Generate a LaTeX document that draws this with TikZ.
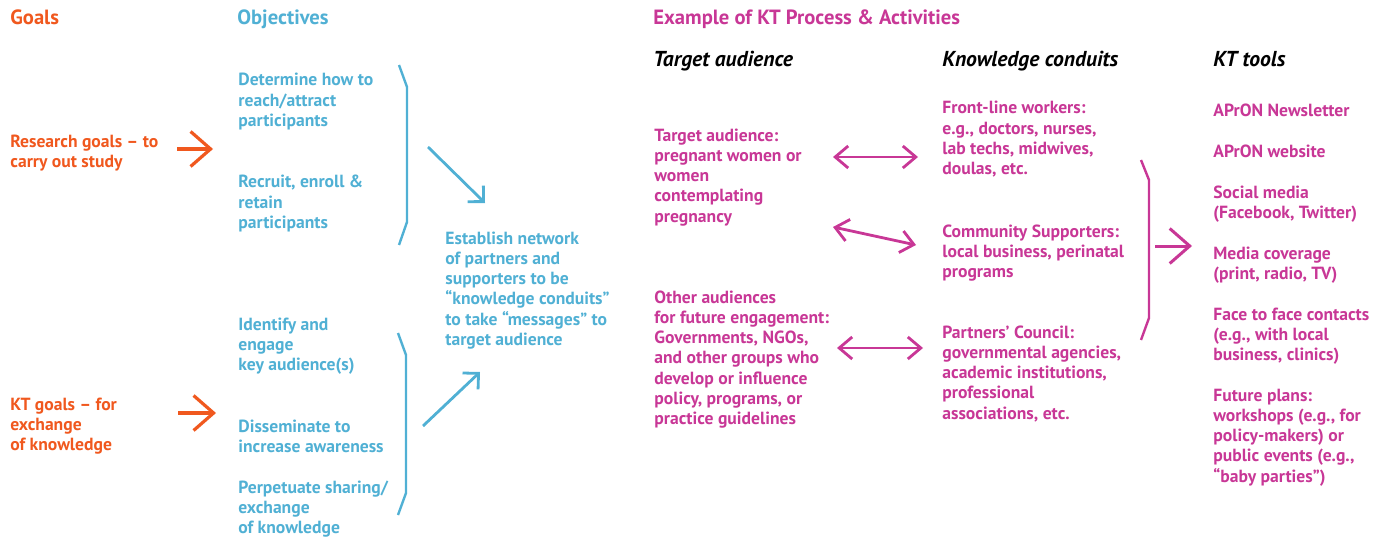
\documentclass[tikz,border=0pt]{standalone}
\usepackage{fontspec}
\setmainfont{PT Sans}
\usetikzlibrary{arrows.meta}
\definecolor{goalorange}{RGB}{240,88,30}
\definecolor{objblue}{RGB}{80,176,212}
\definecolor{ktpink}{RGB}{200,55,150}
\tikzset{
  txt/.style={anchor=base west,inner sep=0pt,align=left,font=\fontsize{8.8}{10.15}\selectfont\bfseries},
  head/.style={anchor=base west,inner sep=0pt,font=\fontsize{10.3}{12}\selectfont\bfseries},
  sub/.style={anchor=base west,inner sep=0pt,font=\fontsize{10.8}{12}\selectfont\bfseries\itshape},
  bracket/.style={line width=1.2pt,line join=round},
  bigtip/.tip={Straight Barb[length=10pt,width=17.5pt]},
  midtip/.tip={Straight Barb[length=5.7pt,width=11.3pt]},
  smalltip/.tip={Straight Barb[length=6.5pt,width=11pt]}
}
\begin{document}
\begin{tikzpicture}[x=0.5pt,y=-0.5pt]
\useasboundingbox (0,0) rectangle (1382,540);
\node[head,goalorange] (hgoal) at (10,25) {Goals};
\node[head,objblue] (hobj) at (237,25) {Objectives};
\node[head,ktpink] (hex) at (653,25) {Example of KT Process \& Activities};
\node[sub] (hta) at (653,67) {Target audience};
\node[sub] (hkc) at (942,67) {Knowledge conduits};
\node[sub] (hkt) at (1213,67) {KT tools};

% multi-line texts sit on the baseline of their last line
\node[txt,goalorange] (goalres) at (10,167.3) {Research goals -- to\\carry out study};
\node[txt,goalorange] (goalkt) at (10,450.6) {KT goals -- for\\exchange\\of knowledge};

\node[txt,objblue] (obj1) at (238,126.6) {Determine how to\\reach/attract\\participants};
\node[txt,objblue] (obj2) at (238,228.6) {Recruit, enroll \&\\retain\\participants};
\node[txt,objblue] (obj3) at (238,370.6) {Identify and\\engage\\key audience(s)};
\node[txt,objblue] (obj4) at (238,452.3) {Disseminate to\\increase awareness};
\node[txt,objblue] (obj5) at (238,533.6) {Perpetuate sharing/\\exchange\\of knowledge};
\node[txt,objblue] (estab) at (445,345.5) {Establish network\\of partners and\\supporters to be\\“knowledge conduits”\\to take “messages” to\\target audience};

\node[txt,ktpink] (aud1) at (654,222.2) {Target audience:\\pregnant women or\\women\\contemplating\\pregnancy};
\node[txt,ktpink] (aud2) at (654,424.8) {Other audiences\\for future engagement:\\Governments, NGOs,\\and other groups who\\develop or influence\\policy, programs, or\\practice guidelines};

\node[txt,ktpink] (cond1) at (942,174.9) {Front-line workers:\\e.g., doctors, nurses,\\lab techs, midwives,\\doulas, etc.};
\node[txt,ktpink] (cond2) at (942,277.6) {Community Supporters:\\local business, perinatal\\programs};
\node[txt,ktpink] (cond3) at (942,419.2) {Partners’ Council:\\governmental agencies,\\academic institutions,\\professional\\associations, etc.};

\node[txt,ktpink] (tool1) at (1213,117) {APrON Newsletter};
\node[txt,ktpink] (tool2) at (1213,157) {APrON website};
\node[txt,ktpink] (tool3) at (1213,218.3) {Social media\\(Facebook, Twitter)};
\node[txt,ktpink] (tool4) at (1213,279.3) {Media coverage\\(print, radio, TV)};
\node[txt,ktpink] (tool5) at (1213,360.6) {Face to face contacts\\(e.g., with local\\business, clinics)};
\node[txt,ktpink] (tool6) at (1213,482.2) {Future plans:\\workshops (e.g., for\\policy-makers) or\\public events (e.g.,\\“baby parties”)};

\coordinate (ra) at (177,149);
\coordinate (rb) at (213,149);
\coordinate (ka) at (178,413);
\coordinate (kb) at (216,413);
\coordinate (ua) at (428,147);
\coordinate (ub) at (485,203);
\coordinate (la) at (423,426);
\coordinate (lb) at (480,372);
\coordinate (p1a) at (833,157);
\coordinate (p1b) at (918,157);
\coordinate (p2a) at (833,227);
\coordinate (p2b) at (916,245);
\coordinate (p3a) at (837,348);
\coordinate (p3b) at (923,348);
\coordinate (ta) at (1155,246);
\coordinate (tb) at (1192,246);

\draw[goalorange,line width=1.6pt,-bigtip] (ra) -- (rb);
\draw[goalorange,line width=1.6pt,-bigtip] (ka) -- (kb);
\draw[objblue,bracket] (399,65) -- (407,87) -- (407,222) -- (399,245);
\draw[objblue,bracket] (398,333) -- (406,355) -- (406,493) -- (398,515);
\draw[objblue,line width=1.4pt,-midtip] (ua) -- (ub);
\draw[objblue,line width=1.4pt,-midtip] (la) -- (lb);
\draw[ktpink,line width=1.4pt,smalltip-smalltip] (p1a) -- (p1b);
\draw[ktpink,line width=1.4pt,smalltip-smalltip] (p2a) -- (p2b);
\draw[ktpink,line width=1.4pt,smalltip-smalltip] (p3a) -- (p3b);
\draw[ktpink,bracket] (1141,160) -- (1149,180) -- (1149,318) -- (1141,340);
\draw[ktpink,line width=1.5pt,-bigtip] (ta) -- (tb);
\end{tikzpicture}
\end{document}
